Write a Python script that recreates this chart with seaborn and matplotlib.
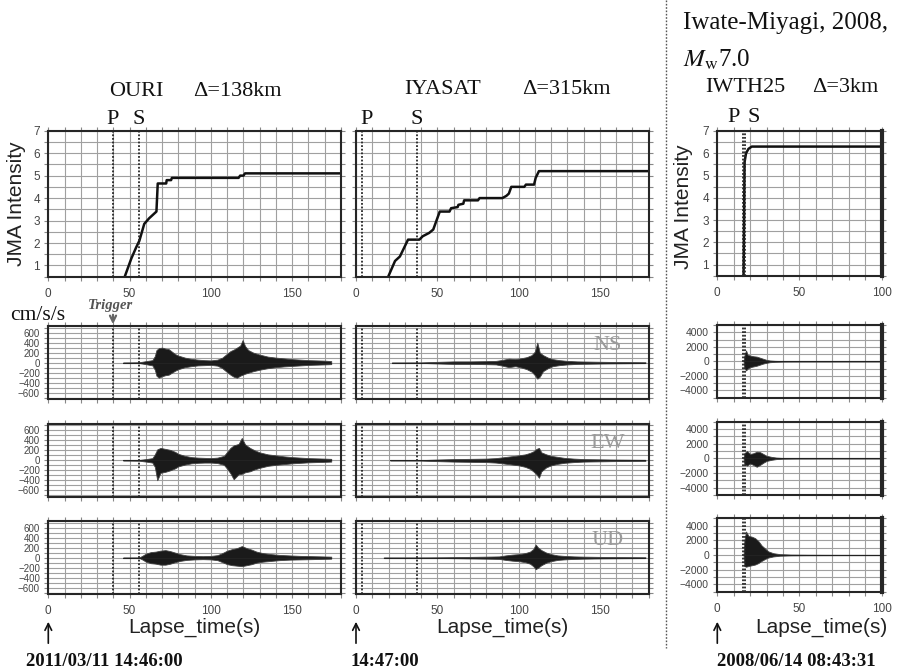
import numpy as np
import pandas as pd
import matplotlib
matplotlib.use("Agg")
import matplotlib.pyplot as plt
import seaborn as sns
from matplotlib.ticker import MultipleLocator, NullFormatter
from matplotlib.lines import Line2D

sns.set_theme(style="ticks")
plt.rcParams['font.family'] = ['Liberation Sans', 'DejaVu Sans']
plt.rcParams['mathtext.fontset'] = 'stix'

# ---------------- data ----------------
stations = ["OURI", "IYASAT", "IWTH25"]
distances = ["Δ=138km", "Δ=315km", "Δ=3km"]
p_times = [40, 3.5, 15.5]
s_times = [56, 37.5, 17]
x_max = [180, 180, 100]
wave_lim = [730, 730, 5000]
components = ["NS", "EW", "UD"]
start_labels = ["2011/03/11 14:46:00", "14:47:00", "2008/06/14 08:43:31"]

ouri_int_t = [47, 49, 51, 54, 56, 58, 59, 62, 65, 66.5, 67.3, 72.5, 72.8, 75.5, 76, 117, 118, 120, 121, 180]
ouri_int_v = [0.5, 0.9, 1.3, 1.8, 2.1, 2.6, 2.85, 3.1, 3.3, 3.4, 4.65, 4.65, 4.8, 4.8, 4.9, 4.9, 5.0, 5.0, 5.1, 5.1]

iyasat_int_t = [19.8, 21, 24, 27, 32, 39, 41, 45, 47.5, 49, 51.5, 57.5, 58.5, 62.5, 63, 66, 66.5, 75, 76, 90,
                92.5, 94, 95.5, 103.5, 104.5, 109.5, 110.5, 112.5, 180]
iyasat_int_v = [0.5, 0.7, 1.2, 1.4, 2.15, 2.15, 2.3, 2.45, 2.6, 2.9, 3.4, 3.4, 3.55, 3.6, 3.7, 3.75, 3.9, 3.9, 4.0, 4.0,
                4.1, 4.2, 4.5, 4.5, 4.6, 4.6, 4.9, 5.2, 5.2]

iwth_int_t = [16.0, 16.3, 16.6, 17.5, 19, 21, 100]
iwth_int_v = [0.5, 3.0, 5.6, 6.0, 6.2, 6.3, 6.3]

# waveform envelopes (time, upper, lower) in cm/s/s
ouri_ns_t = [46, 56, 60, 64, 65.5, 66.5, 68, 70, 72, 74, 76, 78, 80, 84, 88, 92, 96, 100, 104, 107, 110, 112, 114,
             116, 118, 119.5, 121, 123, 126, 130, 135, 140, 145, 150, 155, 160, 165, 170, 174]
ouri_ns_up = [3, 8, 30, 50, 130, 250, 290, 300, 280, 270, 220, 170, 140, 100, 75, 60, 50, 45, 60, 100, 180, 230,
              260, 300, 340, 450, 330, 250, 200, 160, 120, 100, 85, 70, 60, 50, 45, 40, 30]
ouri_ns_lo = [-3, -8, -30, -55, -140, -260, -300, -270, -250, -240, -200, -160, -130, -90, -70, -55, -50, -45, -60,
              -110, -190, -240, -280, -300, -260, -240, -220, -200, -170, -140, -110, -90, -75, -65, -55, -45, -40,
              -35, -30]

ouri_ew_t = [46, 56, 60, 64, 65.5, 67, 69, 72, 75, 78, 80, 84, 88, 92, 96, 100, 104, 108, 110, 112, 114, 117, 119,
             121, 124, 127, 130, 135, 140, 145, 150, 155, 160, 165, 170, 174]
ouri_ew_up = [3, 8, 25, 45, 120, 220, 250, 230, 210, 170, 130, 90, 65, 55, 50, 45, 55, 90, 170, 250, 300, 330, 450,
              320, 250, 200, 160, 120, 100, 80, 65, 55, 45, 40, 35, 30]
ouri_ew_lo = [-3, -8, -25, -45, -130, -400, -250, -230, -200, -160, -120, -85, -60, -50, -45, -45, -55, -90, -170,
              -260, -380, -280, -270, -240, -220, -180, -150, -110, -90, -75, -60, -50, -40, -35, -30, -25]

ouri_ud_t = [46, 56, 58, 60, 63, 66, 69, 72, 75, 78, 81, 85, 90, 95, 100, 104, 107, 110, 113, 116, 119, 122, 125,
             128, 132, 137, 142, 148, 155, 162, 168, 174]
ouri_ud_up = [2, 5, 40, 80, 110, 120, 140, 150, 130, 100, 70, 45, 35, 30, 35, 50, 90, 140, 170, 190, 230, 190, 160,
              120, 90, 70, 55, 45, 35, 30, 25, 20]
ouri_ud_lo = [-2, -5, -40, -80, -110, -120, -140, -140, -120, -90, -65, -45, -35, -30, -35, -50, -90, -130, -150,
              -160, -170, -150, -130, -100, -80, -65, -50, -40, -35, -30, -25, -20]

iyasat_ns_t = [22, 40, 49, 60, 70, 80, 86, 90, 94, 98, 102, 105, 108, 110, 111.5, 113, 115, 118, 121, 125, 130,
               136, 145, 155, 165, 178]
iyasat_ns_up = [2, 5, 15, 25, 25, 30, 35, 55, 80, 70, 90, 110, 150, 220, 400, 200, 150, 100, 70, 50, 35, 25, 20,
                15, 12, 8]
iyasat_ns_lo = [-2, -5, -15, -25, -25, -30, -35, -60, -90, -70, -100, -130, -180, -250, -320, -280, -170, -110,
                -70, -50, -35, -25, -20, -15, -12, -8]

iyasat_ew_t = [21, 40, 49, 60, 70, 80, 86, 90, 95, 100, 104, 107, 109, 111, 112.5, 114, 117, 120, 124, 128, 134,
               140, 150, 160, 170, 178]
iyasat_ew_up = [2, 5, 15, 25, 30, 35, 45, 60, 80, 100, 120, 150, 180, 230, 250, 160, 120, 90, 70, 50, 35, 25, 20,
                15, 12, 10]
iyasat_ew_lo = [-2, -5, -15, -25, -30, -35, -45, -60, -80, -100, -130, -170, -220, -280, -350, -220, -140, -100,
                -70, -50, -35, -25, -20, -15, -12, -10]

iyasat_ud_t = [17, 40, 55, 70, 80, 88, 92, 96, 100, 104, 107, 109, 110.5, 112, 114, 117, 120, 124, 128, 134, 140,
               150, 160, 170, 178]
iyasat_ud_up = [2, 4, 8, 15, 20, 25, 45, 60, 70, 90, 120, 170, 260, 200, 150, 100, 70, 45, 35, 25, 20, 15, 12,
                10, 8]
iyasat_ud_lo = [-2, -4, -8, -15, -20, -25, -45, -60, -70, -90, -120, -170, -230, -200, -150, -100, -70, -45, -35,
                -25, -20, -15, -12, -10, -8]

iwth_ns_t = [16, 16.5, 17.5, 18.5, 20, 22, 24, 26, 28, 30, 32, 35, 40, 50, 60, 70, 80, 90, 100]
iwth_ns_up = [20, 800, 1500, 900, 800, 700, 650, 500, 350, 200, 120, 70, 40, 30, 25, 25, 20, 20, 15]
iwth_ns_lo = [-20, -900, -1250, -1000, -800, -700, -600, -450, -300, -200, -120, -70, -40, -30, -25, -25, -20,
              -20, -15]

iwth_ew_t = [16, 16.5, 18, 20, 22, 24, 26, 28, 30, 33, 36, 40, 50, 60, 70, 80, 90, 100]
iwth_ew_up = [20, 700, 1000, 600, 700, 900, 850, 600, 350, 200, 100, 50, 30, 25, 20, 20, 20, 15]
iwth_ew_lo = [-20, -800, -1000, -700, -900, -1150, -900, -600, -350, -200, -100, -50, -30, -25, -20, -20, -20, -15]

iwth_ud_t = [16, 16.5, 17.5, 19, 21, 23, 25, 27, 29, 31, 34, 38, 45, 55, 65, 75, 85, 100]
iwth_ud_up = [50, 2000, 3200, 2600, 2500, 2300, 1900, 1300, 900, 500, 250, 120, 60, 40, 30, 25, 25, 20]
iwth_ud_lo = [-50, -1500, -1600, -1500, -1400, -1300, -1100, -800, -550, -350, -200, -100, -50, -35, -30, -25,
              -25, -20]

intensity = [(ouri_int_t, ouri_int_v), (iyasat_int_t, iyasat_int_v), (iwth_int_t, iwth_int_v)]
waves = [
    [(ouri_ns_t, ouri_ns_up, ouri_ns_lo), (ouri_ew_t, ouri_ew_up, ouri_ew_lo), (ouri_ud_t, ouri_ud_up, ouri_ud_lo)],
    [(iyasat_ns_t, iyasat_ns_up, iyasat_ns_lo), (iyasat_ew_t, iyasat_ew_up, iyasat_ew_lo),
     (iyasat_ud_t, iyasat_ud_up, iyasat_ud_lo)],
    [(iwth_ns_t, iwth_ns_up, iwth_ns_lo), (iwth_ew_t, iwth_ew_up, iwth_ew_lo), (iwth_ud_t, iwth_ud_up, iwth_ud_lo)],
]

# ---------------- layout ----------------
W, H = 897, 671
fig = plt.figure(figsize=(W / 100, H / 100), dpi=100)


def rect(x0, y0, x1, y1):
    return [x0 / W, 1 - y1 / H, (x1 - x0) / W, (y1 - y0) / H]


def ftext(x, y, s, **kw):
    kw.setdefault('ha', 'center')
    kw.setdefault('va', 'center')
    return fig.text(x / W, 1 - y / H, s, **kw)


col_x = [(48.3, 341.0), (356.0, 648.7), (717.3, 881.5)]
rows_lr = [(130.7, 276.7), (326.0, 399.3), (424.0, 496.7), (521.0, 594.3)]
rows_r = [(131.0, 275.7), (325.0, 397.7), (421.7, 495.0), (518.3, 591.7)]

GRID = '#a0a0a0'
SPINE = '#262626'
TICKC = '#444444'
SERIF = ['Liberation Serif', 'DejaVu Serif']
SANS = ['Liberation Sans', 'DejaVu Sans']


def style(ax, xmax, ymaj, ymin, ylim, xlabels, ylabels, thick_right=False, ysize=8.5):
    ax.set_xlim(0, xmax)
    ax.set_ylim(*ylim)
    ax.xaxis.set_major_locator(MultipleLocator(50))
    ax.xaxis.set_minor_locator(MultipleLocator(10))
    ax.yaxis.set_major_locator(MultipleLocator(ymaj))
    ax.yaxis.set_minor_locator(MultipleLocator(ymin))
    ax.grid(which='both', color=GRID, linewidth=0.8)
    ax.set_axisbelow(True)
    ax.tick_params(which='both', direction='out', top=True, right=True, length=3, width=0.8,
                   color='#888888', labelcolor=TICKC)
    ax.tick_params(axis='x', pad=5, labelsize=8.5)
    ax.tick_params(axis='y', pad=3, labelsize=ysize)
    if not xlabels:
        ax.xaxis.set_major_formatter(NullFormatter())
    if not ylabels:
        ax.yaxis.set_major_formatter(NullFormatter())
    for lab in ax.get_xticklabels() + ax.get_yticklabels():
        lab.set_family(SANS)
    for sp in ax.spines.values():
        sp.set_color(SPINE)
        sp.set_linewidth(1.5)
    if thick_right:
        ax.spines['right'].set_linewidth(3)
    ax.set_xlabel('')
    ax.set_ylabel('')


for c in range(3):
    x0, x1 = col_x[c]
    rows = rows_r if c == 2 else rows_lr
    # intensity panel
    ax = fig.add_axes(rect(x0, rows[0][0], x1, rows[0][1]))
    t, v = intensity[c]
    df = pd.DataFrame({'t': t, 'v': v})
    sns.lineplot(data=df, x='t', y='v', estimator=None, sort=False, color='#111111', linewidth=1.8, ax=ax)
    for pt in (p_times[c], s_times[c]):
        ax.axvline(pt, color=SPINE, linestyle=(0, (1, 1)), linewidth=1.3)
    style(ax, x_max[c], 1, 0.5, (0.5, 7), True, c != 1, thick_right=(c == 2))

    # waveform panels
    lim = wave_lim[c]
    for r in range(3):
        ax = fig.add_axes(rect(x0, rows[r + 1][0], x1, rows[r + 1][1]))
        t, up, lo = waves[c][r]
        t = np.asarray(t, float)
        ax.fill_between(t, lo, up, color='#1a1a1a', linewidth=0.6, edgecolor='#444444')
        sns.lineplot(x=t, y=np.zeros_like(t), estimator=None, sort=False, color='#222222',
                     linewidth=0.8, ax=ax)
        for pt in (p_times[c], s_times[c]):
            ax.axvline(pt, color=SPINE, linestyle=(0, (1, 1)), linewidth=1.3)
        if c == 2:
            style(ax, x_max[c], 2000, 1000, (-lim, lim), r == 2, True, thick_right=True, ysize=7.5)
        else:
            style(ax, x_max[c], 200, 100, (-lim, lim), r == 2, c == 0, ysize=7)
        if c == 1:
            ax.text(0.86, 0.73, components[r], transform=ax.transAxes, ha='center', va='center',
                    family=SERIF, fontsize=16, color='#9a9a9a')

# ---------------- text annotations ----------------
TITLE = 16
ftext(136, 92, stations[0], family=SERIF, fontsize=TITLE, color='#111')
ftext(237, 92, distances[0], family=SERIF, fontsize=TITLE, color='#111')
ftext(443, 90, stations[1], family=SERIF, fontsize=TITLE, color='#111')
ftext(566, 90, distances[1], family=SERIF, fontsize=TITLE, color='#111')
ftext(745, 88, stations[2], family=SERIF, fontsize=TITLE, color='#111')
ftext(845, 88, distances[2], family=SERIF, fontsize=TITLE, color='#111')

for (px, sx, y) in [(113, 139, 119), (366.7, 416.7, 119), (734, 754, 118)]:
    ftext(px, y, "P", family=SERIF, fontsize=TITLE, color='#111')
    ftext(sx, y, "S", family=SERIF, fontsize=TITLE, color='#111')

ftext(683, 23, "Iwate-Miyagi, 2008,", ha='left', family=SERIF, fontsize=18, color='#111')
ftext(683, 60, r"$M_{\mathrm{w}}$7.0", ha='left', family=SERIF, fontsize=18, color='#111')

ftext(17, 204, "JMA Intensity", rotation=90, family=SANS, fontsize=15, color='#222')
ftext(683, 207, "JMA Intensity", rotation=90, family=SANS, fontsize=15, color='#222')

ftext(10, 315, "cm/s/s", ha='left', family=SERIF, fontsize=15.5, color='#111')
ftext(111, 305, "Trigger", family=SERIF, fontsize=10.5, fontweight='bold', fontstyle='italic', color='#555')
fig.add_artist(matplotlib.patches.FancyArrowPatch((113 / W, 1 - 312 / H), (113 / W, 1 - 327 / H),
                                                  transform=fig.transFigure, arrowstyle='->',
                                                  mutation_scale=11, color='#666', lw=1.6))

for xc in (194, 502, 821.7):
    ftext(xc, 627, "Lapse_time(s)", family=SANS, fontsize=15, color='#222')

for (xa, xl, lab) in [(48.3, 26, start_labels[0]), (356, 350, start_labels[1]), (717.3, 716.7, start_labels[2])]:
    fig.add_artist(matplotlib.patches.FancyArrowPatch((xa / W, 1 - 646 / H), (xa / W, 1 - 619 / H),
                                                      transform=fig.transFigure, arrowstyle='->',
                                                      mutation_scale=12, color='#111', lw=1.2))
    ftext(xl, 662, lab, ha='left', family=SERIF, fontsize=13.5, fontweight='bold', color='#111')

fig.add_artist(Line2D([666 / W, 666 / W], [1.0, 1 - 648 / H], transform=fig.transFigure,
                      linestyle=(0, (1.2, 1.2)), color='#555', lw=1.0))

fig.savefig("out.png", dpi=100)
